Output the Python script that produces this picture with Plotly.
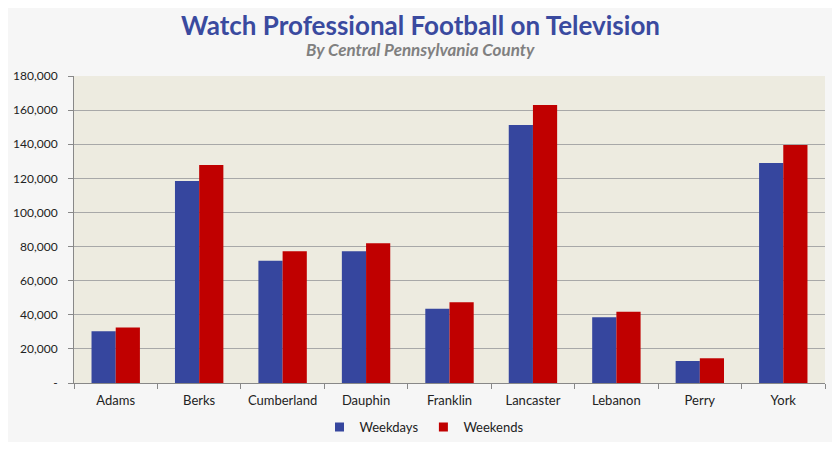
import plotly.graph_objects as go

counties = ["Adams", "Berks", "Cumberland", "Dauphin", "Franklin", "Lancaster", "Lebanon", "Perry", "York"]
weekdays = [30300, 118400, 71700, 77200, 43600, 151200, 38500, 12900, 129000]
weekends = [32600, 127800, 77200, 81900, 47300, 163000, 41800, 14500, 139500]
series_names = ["Weekdays", "Weekends"]
series_colors = ["#36469E", "#C00000"]
y_tick_vals = [0, 20000, 40000, 60000, 80000, 100000, 120000, 140000, 160000, 180000]
y_tick_text = ["-", "20,000", "40,000", "60,000", "80,000", "100,000", "120,000", "140,000", "160,000", "180,000"]

font_family = "Lato, Open Sans, sans-serif"

fig = go.Figure()
for name, vals, col in zip(series_names, [weekdays, weekends], series_colors):
    fig.add_trace(go.Bar(name=name, x=counties, y=vals, showlegend=False,
                         marker=dict(color=col, line=dict(width=0))))
# legend entries with small square swatches
for name, col in zip(series_names, series_colors):
    fig.add_trace(go.Scatter(name=name, x=[None], y=[None], mode="markers",
                             marker=dict(symbol="square", size=9, color=col)))

title_x = (420 - 74) / (825 - 74)

fig.update_layout(
    width=832, height=434,
    margin=dict(l=66, r=15, t=68, b=59, autoexpand=False),
    paper_bgcolor="#F6F6F6",
    plot_bgcolor="#EDEBE0",
    barmode="group",
    bargap=0.42,
    bargroupgap=0,
    font=dict(family=font_family, color="#222222", size=13),
    showlegend=True,
    legend=dict(orientation="h", x=0.5, xref="container", xanchor="center",
                y=0.0, yref="container", yanchor="bottom",
                font=dict(size=13, color="#222222"), bgcolor="rgba(0,0,0,0)",
                itemwidth=30, traceorder="normal"),
    xaxis=dict(showgrid=False, showline=True, linecolor="#888888", linewidth=1,
               ticks="outside", tickson="boundaries", tickcolor="#888888", ticklen=5,
               ticklabelstandoff=5, automargin=False,
               tickfont=dict(size=13, color="#222222")),
    yaxis=dict(range=[0, 180000], tickvals=y_tick_vals, ticktext=y_tick_text,
               showgrid=True, gridcolor="#A8A8A8", gridwidth=1,
               showline=True, linecolor="#888888", linewidth=1,
               ticks="outside", tickcolor="#888888", ticklen=5,
               ticklabelstandoff=8, automargin=False,
               tickfont=dict(size=12, color="#222222"), zeroline=False),
    annotations=[
        dict(text="<b>Watch Professional Football on Television</b>", xref="paper", yref="paper",
             x=title_x, y=1, yshift=51, xanchor="center", yanchor="middle", showarrow=False,
             font=dict(size=26, color="#3A4A9F", family=font_family)),
        dict(text="<b><i>By Central Pennsylvania County</i></b>", xref="paper", yref="paper",
             x=title_x, y=1, yshift=27, xanchor="center", yanchor="middle", showarrow=False,
             font=dict(size=17, color="#808080", family=font_family)),
    ],
)

fig.write_html("out.html")
